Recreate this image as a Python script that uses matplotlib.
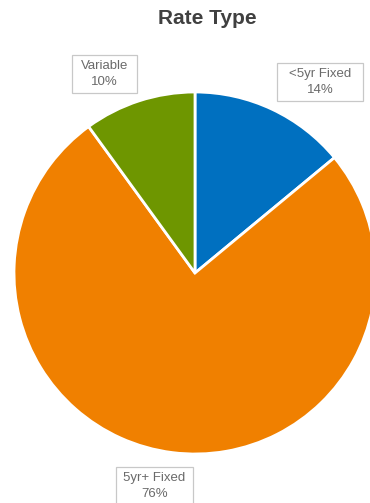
import matplotlib.pyplot as plt
from matplotlib.patches import Rectangle

plt.rcParams['font.family'] = ['Liberation Sans', 'DejaVu Sans']

title = "Rate Type"
categories = ["<5yr Fixed", "5yr+ Fixed", "Variable"]
shares = [14, 76, 10]
colors = ["#0070C0", "#F08000", "#6E9600"]

W, H = 370, 503
fig = plt.figure(figsize=(W / 100, H / 100), dpi=100)
fig.patch.set_facecolor("white")

# pie axes: centre (195, 273) px, radius 181 px
cx, cy, r = 195, 273, 181
ax = fig.add_axes([(cx - r) / W, (H - cy - r) / H, 2 * r / W, 2 * r / H])
ax.pie(shares, colors=colors, startangle=90, counterclock=False, radius=1,
       wedgeprops=dict(edgecolor="white", linewidth=2))
ax.set_xlim(-1, 1)
ax.set_ylim(-1, 1)
ax.set_aspect("equal")
ax.axis("off")

fig.text(207 / W, 1 - 18 / H, title, ha="center", va="center",
         fontsize=15, fontweight="bold", color="#404040")

# data label boxes (x0, y0, x1, y1 in px from top-left)
boxes = {
    "<5yr Fixed": (277, 63, 363, 101),
    "5yr+ Fixed": (116, 467, 193, 505),
    "Variable": (72, 55, 137, 93),
}
for name, val in zip(categories, shares):
    x0, y0, x1, y1 = boxes[name]
    fig.patches.append(Rectangle((x0 / W, 1 - y1 / H), (x1 - x0) / W, (y1 - y0) / H,
                                 transform=fig.transFigure, facecolor="white",
                                 edgecolor="#C8C8C8", linewidth=0.9))
    xc = (x0 + x1) / 2
    yt = y0 + 11
    fig.text(xc / W, 1 - yt / H, name, ha="center", va="center",
             fontsize=9.5, color="#6A6A6A")
    fig.text(xc / W, 1 - (yt + 16) / H, f"{val}%", ha="center", va="center",
             fontsize=9.5, color="#6A6A6A")

fig.savefig("out.png", dpi=100)
